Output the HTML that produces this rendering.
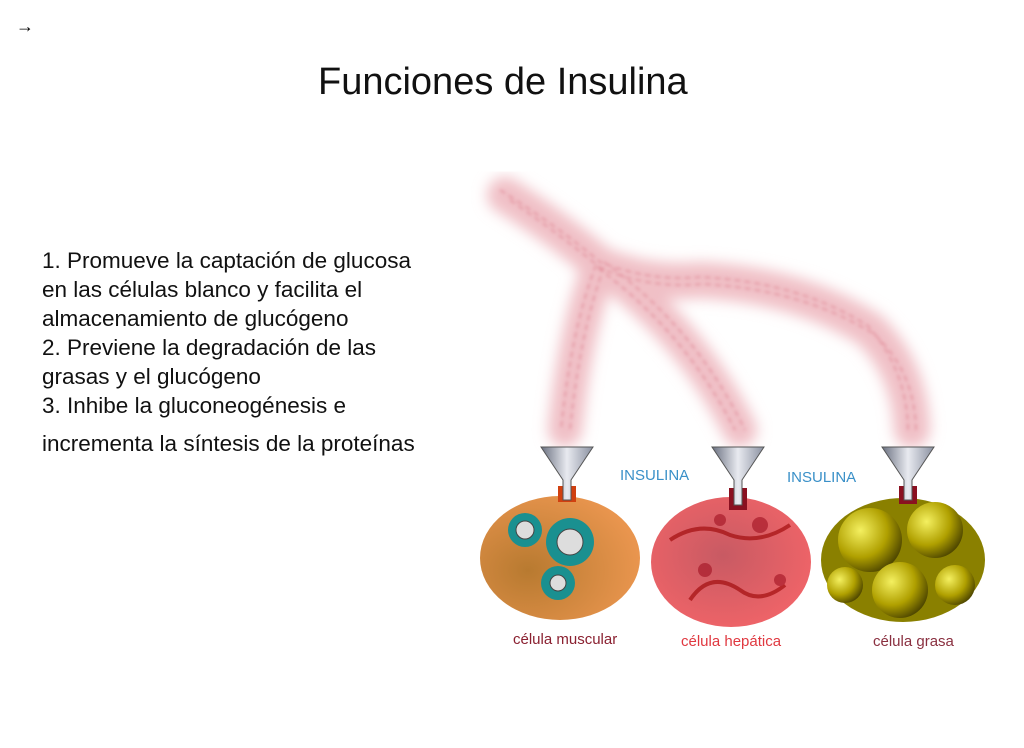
<!DOCTYPE html>
<html><head><meta charset="utf-8"><style>
body{margin:0;width:1024px;height:748px;background:#fff;position:relative;overflow:hidden;font-family:"Liberation Sans",sans-serif}
.t{position:absolute;left:318px;top:61px;font-size:38px;color:#111}
.b{position:absolute;left:42px;top:246px;font-size:22.5px;line-height:29px;color:#111}
</style></head><body>
<div style="position:absolute;left:16px;top:16px;font-size:18px">→</div>
<div class="t">Funciones de Insulina</div>
<div class="b">1. Promueve la captación de glucosa<br>en las células blanco y facilita el<br>almacenamiento de glucógeno<br>2. Previene la degradación de las<br>grasas y el glucógeno<br>3. Inhibe la gluconeogénesis e<br><div style="margin-top:9px">incrementa la síntesis de la proteínas</div></div>
<svg width="1024" height="748" style="position:absolute;left:0;top:0">
<defs>
<filter id="bl"><feGaussianBlur stdDeviation="7"/></filter>
<filter id="bl2"><feGaussianBlur stdDeviation="1.5"/></filter>
<radialGradient id="mu" cx="0.3" cy="0.6" r="0.7"><stop offset="0" stop-color="#b87a30"/><stop offset="1" stop-color="#e9954e"/></radialGradient>
<radialGradient id="he" cx="0.45" cy="0.45" r="0.6"><stop offset="0" stop-color="#c85a63"/><stop offset="1" stop-color="#f06468"/></radialGradient>
<radialGradient id="ba" cx="0.35" cy="0.35" r="0.7"><stop offset="0" stop-color="#f4f060"/><stop offset="0.6" stop-color="#b0a000"/><stop offset="1" stop-color="#504800"/></radialGradient>
<linearGradient id="fu" x1="0" x2="1"><stop offset="0" stop-color="#6a7080"/><stop offset="0.5" stop-color="#e8eaf0"/><stop offset="1" stop-color="#8a90a0"/></linearGradient>
</defs>
<g fill="none" stroke="#f0c0c6" stroke-linecap="round" filter="url(#bl)">
<path d="M505 195 Q560 230 600 265 Q650 285 700 280 Q800 285 870 330 Q910 370 912 430" stroke-width="36"/>
<path d="M600 265 Q575 330 565 430" stroke-width="34"/>
<path d="M600 265 Q690 330 740 430" stroke-width="34"/>
</g>
<g fill="none" stroke="#d87080" stroke-width="1.5" opacity="0.6" stroke-dasharray="6 4" filter="url(#bl2)">
<path d="M500 190 Q560 228 600 262 Q650 282 700 277 Q800 282 868 326 Q907 370 908 430"/>
<path d="M510 200 Q562 236 602 269 Q652 289 702 284 Q802 289 874 334 Q915 372 916 430"/>
<path d="M596 265 Q571 330 561 430"/><path d="M604 267 Q580 332 570 430"/>
<path d="M598 268 Q686 333 735 430"/><path d="M604 262 Q695 327 745 430"/>
</g>
<ellipse cx="560" cy="558" rx="80" ry="62" fill="url(#mu)"/>
<ellipse cx="731" cy="562" rx="80" ry="65" fill="url(#he)"/>
<g fill="#a01020" opacity="0.6">
<path d="M670 540 q30 -20 60 -5 q30 10 60 -10" stroke="#900" stroke-width="4" fill="none"/>
<path d="M690 600 q20 -30 50 -10 q20 15 45 -5" stroke="#900" stroke-width="4" fill="none"/>
<circle cx="760" cy="525" r="8"/><circle cx="705" cy="570" r="7"/><circle cx="780" cy="580" r="6"/><circle cx="720" cy="520" r="6"/>
</g>
<ellipse cx="903" cy="560" rx="82" ry="62" fill="#8a8000"/>
<g>
<circle cx="870" cy="540" r="32" fill="url(#ba)"/><circle cx="935" cy="530" r="28" fill="url(#ba)"/>
<circle cx="900" cy="590" r="28" fill="url(#ba)"/><circle cx="955" cy="585" r="20" fill="url(#ba)"/>
<circle cx="845" cy="585" r="18" fill="url(#ba)"/>
</g>
<g fill="#1a9090">
<circle cx="525" cy="530" r="17"/><circle cx="570" cy="542" r="24"/><circle cx="558" cy="583" r="17"/>
</g>
<g fill="#ddd" stroke="#444" stroke-width="1"><circle cx="525" cy="530" r="9"/><circle cx="570" cy="542" r="13"/><circle cx="558" cy="583" r="8"/></g>
<g>
<rect x="558" y="486" width="18" height="16" fill="#d04010"/>
<rect x="729" y="488" width="18" height="22" fill="#8a1020"/>
<rect x="899" y="486" width="18" height="18" fill="#8a1020"/>
</g>
<g fill="url(#fu)" stroke="#555" stroke-width="1">
<path d="M541 447 L593 447 L571 480 L571 500 L563 500 L563 480 Z"/>
<path d="M712 447 L764 447 L742 480 L742 505 L734 505 L734 480 Z"/>
<path d="M882 447 L934 447 L912 480 L912 500 L904 500 L904 480 Z"/>
</g>
<g font-family="Liberation Sans" font-size="15" fill="#3a90c8"><text x="620" y="480">INSULINA</text><text x="787" y="482">INSULINA</text></g>
<g font-family="Liberation Sans" font-size="15"><text x="513" y="644" fill="#8a2030">célula muscular</text><text x="681" y="646" fill="#e03840">célula hepática</text><text x="873" y="646" fill="#8a3040">célula grasa</text></g>
</svg>
</body></html>
